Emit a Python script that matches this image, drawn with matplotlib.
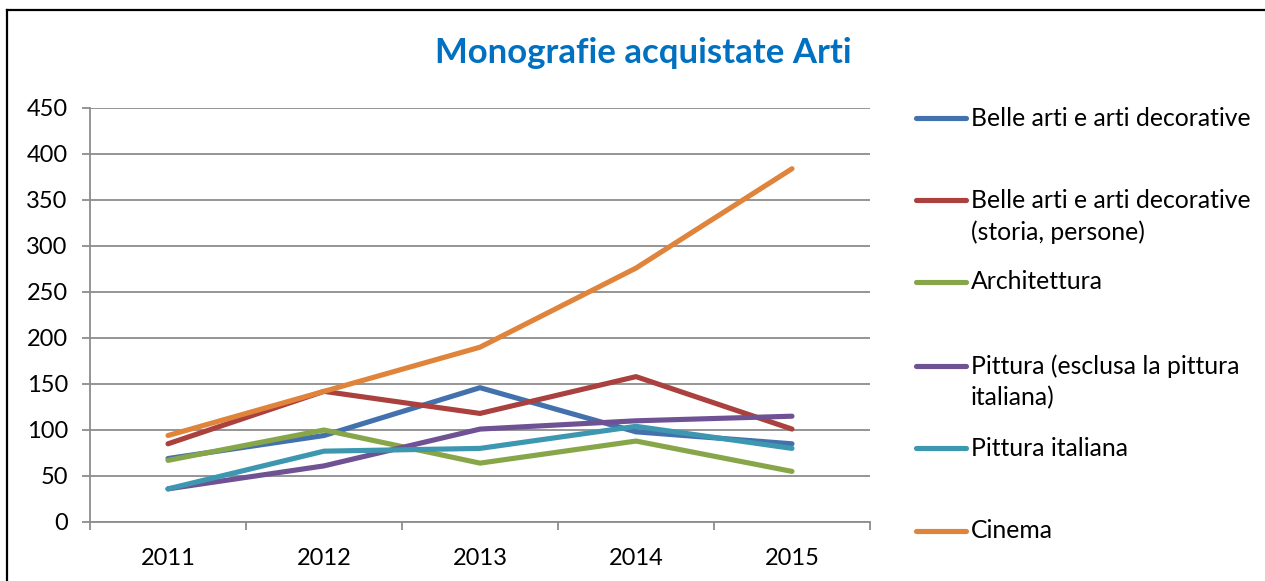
import matplotlib
matplotlib.use("Agg")
import matplotlib.pyplot as plt
from matplotlib.lines import Line2D

# Data
years = ["2011", "2012", "2013", "2014", "2015"]
belle_arti = [69, 94, 146, 98, 85]
belle_arti_storia = [85, 142, 118, 158, 101]
architettura = [67, 100, 64, 88, 55]
pittura_esclusa = [36, 61, 101, 110, 115]
pittura_italiana = [36, 77, 80, 104, 80]
cinema = [94, 142, 190, 276, 384]

labels = ["Belle arti e arti decorative",
          "Belle arti e arti decorative\n(storia, persone)",
          "Architettura",
          "Pittura (esclusa la pittura\nitaliana)",
          "Pittura italiana",
          "Cinema"]
series = [belle_arti, belle_arti_storia, architettura,
          pittura_esclusa, pittura_italiana, cinema]
colors = ["#4371AD", "#AA413E", "#87A64A", "#6F5294", "#3D97B0", "#DF843A"]

plt.rcParams['font.family'] = ['Lato', 'DejaVu Sans']

W, H = 1265, 581
fig = plt.figure(figsize=(W / 100, H / 100), dpi=100)

# axes placed in pixel terms
ax = fig.add_axes([90 / W, (H - 522) / H, 780 / W, 414 / H])

x = list(range(len(years)))
for vals, c, lab in zip(series, colors, labels):
    ax.plot(x, vals, color=c, lw=3.7, solid_capstyle='round',
            solid_joinstyle='round', label=lab)

ax.set_xlim(-0.5, len(years) - 0.5)
ax.set_ylim(0, 450)
ax.set_yticks(range(0, 451, 50))
ax.set_xticks(x)
ax.set_xticklabels(years)
ax.set_xticks([i - 0.5 for i in range(len(years) + 1)], minor=True)

grid_c = "#8C8C8C"
ax.yaxis.grid(True, color=grid_c, lw=1.3)
ax.set_axisbelow(True)
for s in ["top", "right"]:
    ax.spines[s].set_visible(False)
for s in ["left", "bottom"]:
    ax.spines[s].set_color(grid_c)
    ax.spines[s].set_linewidth(1.3)

ax.tick_params(axis='y', length=6, width=1.3, color=grid_c, pad=10,
               labelsize=17)
ax.tick_params(axis='x', which='major', length=0, pad=19, labelsize=17)
ax.tick_params(axis='x', which='minor', length=6, width=1.3, color=grid_c)

fig.text(643 / W, 1 - 53 / H, "Monografie acquistate Arti", ha='center',
         va='center', fontsize=25, fontweight='bold', color='#0070C0')

# legend drawn by hand to match spacing
leg_y = [118, 200, 282, 366, 448, 531]
for yy, c, lab in zip(leg_y, colors, labels):
    fy = 1 - yy / H
    fig.add_artist(Line2D([916 / W, 966 / W], [fy, fy], color=c, lw=3.7,
                          solid_capstyle='round', transform=fig.transFigure))
    for k, part in enumerate(lab.split("\n")):
        fig.text(971 / W, 1 - (yy + 32 * k) / H, part, ha='left',
                 va='center', fontsize=17.8, color='black')

# outer frame
fig.add_artist(Line2D([7 / W, 1], [1 - 10 / H, 1 - 10 / H], color='black',
                      lw=1.6, transform=fig.transFigure))
fig.add_artist(Line2D([7 / W, 7 / W], [0, 1 - 10 / H], color='black',
                      lw=1.6, transform=fig.transFigure))

fig.savefig("out.png", dpi=100)
